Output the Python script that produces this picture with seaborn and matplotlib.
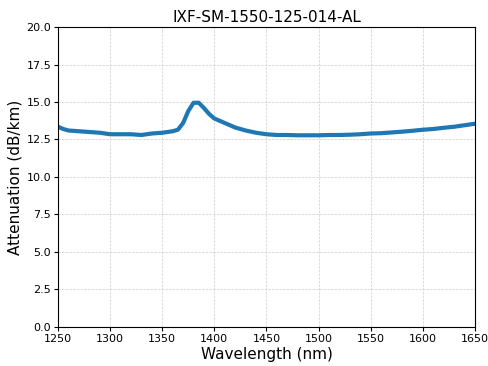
import matplotlib
matplotlib.use("Agg")
import matplotlib.pyplot as plt
import seaborn as sns
import pandas as pd

# 读图估计的数据
wavelength = [1250, 1255, 1260, 1270, 1280, 1290, 1300, 1310, 1320, 1330, 1340, 1350,
              1360, 1365, 1370, 1375, 1380, 1385, 1390, 1395, 1400, 1410, 1420, 1430,
              1440, 1450, 1460, 1470, 1480, 1490, 1500, 1510, 1520, 1530, 1540, 1550,
              1560, 1570, 1580, 1590, 1600, 1610, 1620, 1630, 1640, 1650]
attenuation = [13.35, 13.2, 13.1, 13.05, 13.0, 12.95, 12.85, 12.85, 12.85, 12.8, 12.9, 12.95,
               13.05, 13.15, 13.6, 14.4, 14.95, 14.95, 14.6, 14.2, 13.9, 13.6, 13.3, 13.1,
               12.95, 12.85, 12.8, 12.8, 12.78, 12.78, 12.78, 12.8, 12.8, 12.82, 12.85, 12.9,
               12.92, 12.97, 13.02, 13.08, 13.15, 13.2, 13.28, 13.35, 13.45, 13.55]

df = pd.DataFrame({'wl': wavelength, 'att': attenuation})

fig, ax = plt.subplots(figsize=(4.88, 3.66), dpi=100)
fig.subplots_adjust(left=0.119, right=0.973, top=0.926, bottom=0.107)
sns.lineplot(data=df, x='wl', y='att', color='#1f77b4', linewidth=3, ax=ax)
ax.set_xlim(1250, 1650)
ax.set_ylim(0, 20)
ax.set_yticks([0, 2.5, 5, 7.5, 10, 12.5, 15, 17.5, 20])
ax.grid(True, linestyle='--', linewidth=0.5, color='#cccccc')
ax.tick_params(labelsize=8, length=3, pad=2)
ax.set_xlabel('Wavelength (nm)', fontsize=11, labelpad=2)
ax.set_ylabel('Attenuation (dB/km)', fontsize=11, labelpad=3)
ax.set_title('IXF-SM-1550-125-014-AL', fontsize=11, pad=4)
plt.savefig('out.png', dpi=100)
